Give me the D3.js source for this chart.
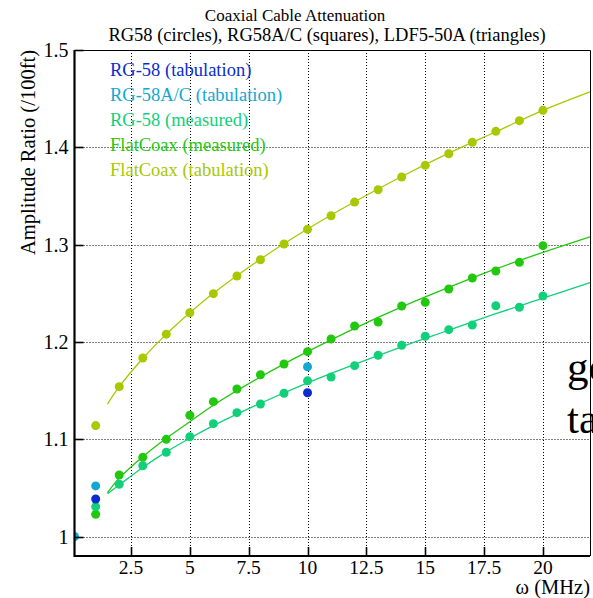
<!DOCTYPE html>
<html>
<head>
<meta charset="utf-8">
<script src="https://cdn.jsdelivr.net/npm/d3@7"></script>
<style>
  html, body { margin: 0; padding: 0; background: #fff; }
  svg { display: block; }
  text { font-family: "Liberation Serif", "DejaVu Serif", serif; }
</style>
</head>
<body>
<svg id="chart" width="593" height="598"></svg>
<script>
// Frequencies in MHz
const freqs = [1, 2, 3, 4, 5, 6, 7, 8, 9, 10, 11, 12, 13, 14, 15, 16, 17, 18, 19, 20];

// Measured / tabulated amplitude ratio per 100 ft
const flatTab  = [1.114, 1.154, 1.1835, 1.208, 1.230, 1.2496, 1.2678, 1.2845, 1.3006, 1.3157,
                  1.3297, 1.3437, 1.3564, 1.3695, 1.3815, 1.3934, 1.4051, 1.4164, 1.4274, 1.438];
const flatMeas = [1.0229, 1.0632, 1.0814, 1.0999, 1.1246, 1.1386, 1.1516, 1.1663, 1.1773, 1.190,
                  1.203, 1.2164, 1.2205, 1.2369, 1.2407, 1.2544, 1.2657, 1.2729, 1.2818, 1.2989];
const rgMeas   = [1.0307, 1.0537, 1.0728, 1.0866, 1.1026, 1.116, 1.1273, 1.1362, 1.1472, 1.160,
                  1.1640, 1.1756, 1.1863, 1.1965, 1.2058, 1.2126, 1.2174, 1.2372, 1.2356, 1.2472];

// Sparse tabulations
const rgTabFreqs   = [1, 10];
const rgTabVals    = [1.0386, 1.1478];
const rgacTabFreqs = [0.1, 1, 10];
const rgacTabVals  = [1.0, 1.052, 1.1745];

// Fitted curves, sampled
const fitFreqs     = [1.5, 2, 3, 4, 5, 6, 8, 10, 12, 14, 16, 18, 20, 22];
const fitFlatTab   = [1.136, 1.154, 1.183, 1.208, 1.230, 1.250, 1.285, 1.316, 1.344, 1.370, 1.394, 1.416, 1.438, 1.457];
const fitFlatMeas  = [1.045, 1.060, 1.082, 1.101, 1.118, 1.135, 1.164, 1.190, 1.214, 1.236, 1.256, 1.275, 1.292, 1.308];
const fitRgMeas    = [1.044, 1.053, 1.071, 1.087, 1.101, 1.114, 1.137, 1.158, 1.177, 1.195, 1.212, 1.229, 1.245, 1.261];

// Axis ticks
const xTicks = [2.5, 5, 7.5, 10, 12.5, 15, 17.5, 20];
const yTicks = [1.0, 1.1, 1.2, 1.3, 1.4, 1.5];

const legendLabels = ["RG-58 (tabulation)", "RG-58A/C (tabulation)", "RG-58 (measured)",
                      "FlatCoax (measured)", "FlatCoax (tabulation)"];
const colors = {
  rgTab: "#0b2ccc",
  rgacTab: "#12a8d2",
  rgMeas: "#12d07a",
  flatMeas: "#22c80e",
  flatTab: "#a8c800"
};
const legendColors = [colors.rgTab, colors.rgacTab, colors.rgMeas, colors.flatMeas, colors.flatTab];

const svg = d3.select("#chart");
const L = 74.5, R = 590, T = 50, B = 556;

const x = d3.scaleLinear().domain([0.1, 22]).range([L, R]);
const y = d3.scaleLinear().domain([0.98, 1.5]).range([B, T]);

svg.append("defs").append("clipPath").attr("id", "plot")
  .append("rect").attr("x", L).attr("y", T).attr("width", R - L).attr("height", B - T);

// Titles
const title = svg.append("g").attr("text-anchor", "middle").attr("fill", "#000");
title.append("text").attr("font-size", 17).attr("x", 295).attr("y", 21).text("Coaxial Cable Attenuation");
title.append("text").attr("font-size", 18.5).attr("x", 327).attr("y", 41).text("RG58 (circles), RG58A/C (squares), LDF5-50A (triangles)");

// Grid
const grid = svg.append("g").attr("stroke", "#000").attr("stroke-width", 1).attr("stroke-dasharray", "1,2");
grid.selectAll("line.gx").data(xTicks).join("line")
  .attr("x1", d => Math.round(x(d)) + 0.5).attr("x2", d => Math.round(x(d)) + 0.5)
  .attr("y1", T).attr("y2", B);
grid.selectAll("line.gy").data(yTicks).join("line")
  .attr("y1", d => Math.round(y(d)) + 0.5).attr("y2", d => Math.round(y(d)) + 0.5)
  .attr("x1", L).attr("x2", R);

// Frame (thin top and right)
svg.append("path").attr("d", `M${L},${T + 0.5}H${R + 0.5}V${B}`)
  .attr("fill", "none").attr("stroke", "#000").attr("stroke-width", 1);

// Legend text
const legend = svg.append("g").attr("font-size", 18.5);
legend.selectAll("text").data(legendLabels).join("text")
  .attr("x", 110).attr("y", (d, i) => 76 + i * 25)
  .attr("fill", (d, i) => legendColors[i])
  .text(d => d);

// Fit curves
const line = d3.line().x(d => x(d[0])).y(d => y(d[1])).curve(d3.curveCatmullRom);
const fits = [
  [fitFlatTab, colors.flatTab],
  [fitFlatMeas, colors.flatMeas],
  [fitRgMeas, colors.rgMeas]
];
fits.forEach(([vals, c]) => {
  svg.append("path").datum(fitFreqs.map((f, i) => [f, vals[i]]))
    .attr("d", line).attr("fill", "none").attr("stroke", c).attr("stroke-width", 1.3);
});

// Data points
function dots(xs, ys, c, r) {
  svg.append("g").attr("clip-path", "url(#plot)")
    .selectAll("circle").data(xs.map((f, i) => [f, ys[i]])).join("circle")
    .attr("cx", d => x(d[0])).attr("cy", d => y(d[1])).attr("r", r).attr("fill", c);
}
dots(freqs, flatTab, colors.flatTab, 4.5);
dots(freqs, flatMeas, colors.flatMeas, 4.5);
dots(freqs, rgMeas, colors.rgMeas, 4.5);
dots(rgacTabFreqs, rgacTabVals, colors.rgacTab, 4.5);
dots(rgTabFreqs, rgTabVals, colors.rgTab, 4.5);

// Axes: thick left and bottom with inward ticks
const axes = svg.append("g").attr("stroke", "#000");
axes.append("path").attr("d", `M${L},${T}V${B}H${R}`)
  .attr("fill", "none").attr("stroke-width", 2.2);
axes.selectAll("line.ty").data(yTicks).join("line")
  .attr("x1", L).attr("x2", L + 9)
  .attr("y1", d => Math.round(y(d)) + 0.5).attr("y2", d => Math.round(y(d)) + 0.5)
  .attr("stroke-width", 1.6);
axes.selectAll("line.tx").data(xTicks).join("line")
  .attr("y1", B).attr("y2", B - 9)
  .attr("x1", d => Math.round(x(d)) + 0.5).attr("x2", d => Math.round(x(d)) + 0.5)
  .attr("stroke-width", 1.6);

// Tick labels
const fmtY = d => d === 1 ? "1" : d3.format(".1f")(d);
svg.append("g").attr("font-size", 20).attr("text-anchor", "end")
  .selectAll("text").data(yTicks).join("text")
  .attr("x", L - 6).attr("y", d => y(d) + 7).text(fmtY);
svg.append("g").attr("font-size", 19.5).attr("text-anchor", "middle")
  .selectAll("text").data(xTicks).join("text")
  .attr("x", d => x(d)).attr("y", 574).text(d => String(d));

// Axis titles
svg.append("text").attr("font-size", 20.5).attr("text-anchor", "end")
  .attr("transform", `translate(35,${T}) rotate(-90)`).text("Amplitude Ratio (/100ft)");
svg.append("text").attr("font-size", 20.5).attr("text-anchor", "end")
  .attr("x", R).attr("y", 594).text("ω (MHz)");

// Large annotation at the right edge
const note = svg.append("g").attr("font-size", 43);
note.append("text").attr("x", 567).attr("y", 381).text("go");
note.append("text").attr("x", 567).attr("y", 433).text("ta");
</script>
</body>
</html>
